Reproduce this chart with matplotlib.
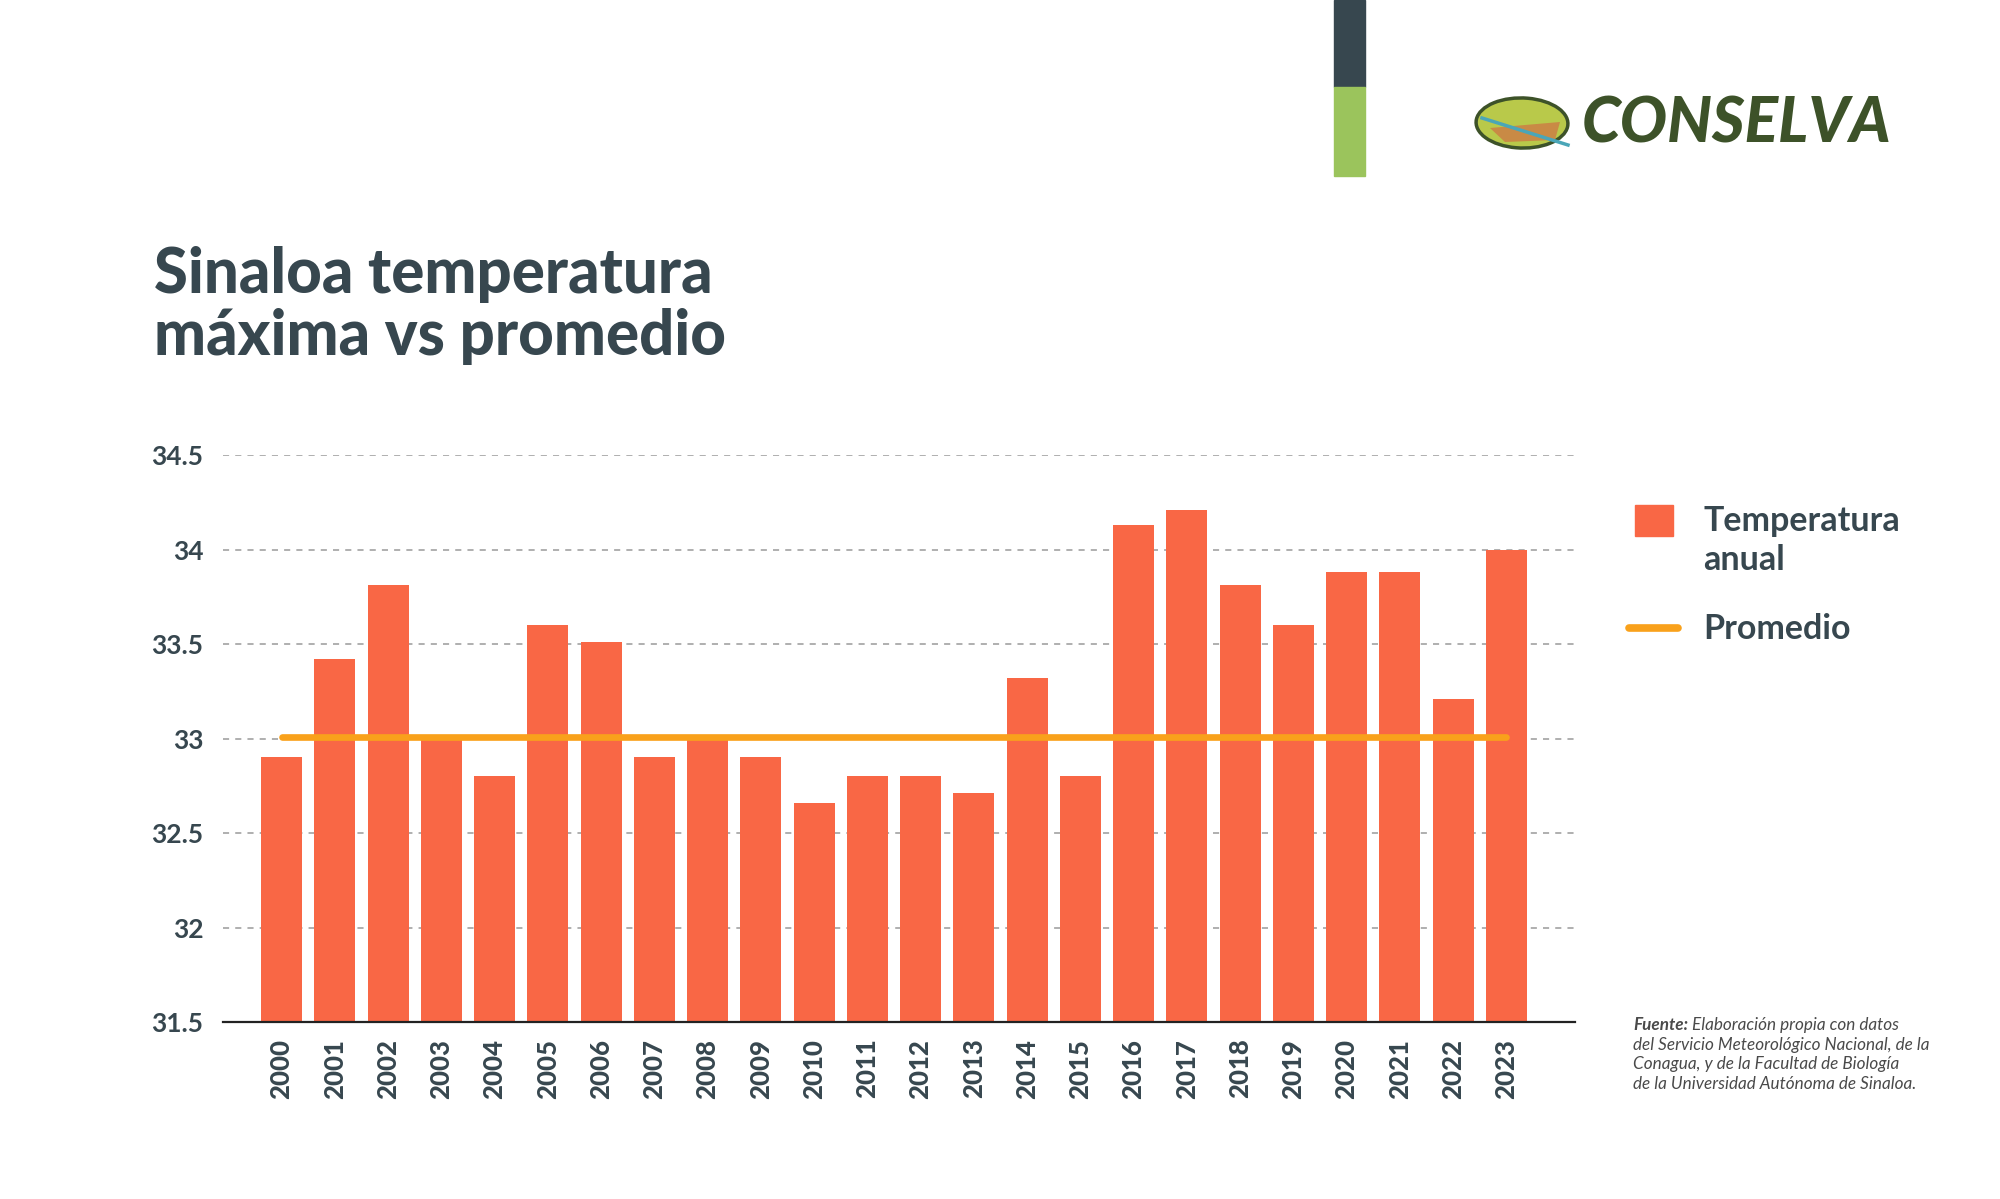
import matplotlib
matplotlib.use("Agg")
import matplotlib.pyplot as plt
from matplotlib.patches import Rectangle, Ellipse, Polygon
from matplotlib.lines import Line2D

# ---- data ----
years = [str(y) for y in range(2000, 2024)]
temperatura = [32.90, 33.42, 33.81, 33.00, 32.80, 33.60, 33.51, 32.90, 33.00, 32.90,
               32.66, 32.80, 32.80, 32.71, 33.32, 32.80, 34.13, 34.21, 33.81, 33.60,
               33.88, 33.88, 33.21, 34.00]
promedio = [33.01] * len(years)
yticks = [31.5, 32, 32.5, 33, 33.5, 34, 34.5]
ytick_labels = ["31.5", "32", "32.5", "33", "33.5", "34", "34.5"]

DARK = "#37474f"
BAR = "#f96745"
ORANGE = "#f9a11b"

W, H = 2000, 1199
fig = plt.figure(figsize=(W / 100, H / 100), dpi=100)
fig.patch.set_facecolor("white")

def fx(px):
    return px / W

def fy(py):
    return 1 - py / H

ax = fig.add_axes([fx(223), fy(1022), fx(1575 - 223), (1022 - 455) / H])
x = list(range(len(years)))
ax.bar(x, temperatura, width=0.77, color=BAR, zorder=2)
ax.plot(x, promedio, color=ORANGE, lw=4.8, solid_capstyle="round", zorder=3)

ax.set_ylim(31.5, 34.5)
ax.set_xlim(-1.1, 24.29)
ax.set_yticks(yticks)
ax.set_yticklabels(ytick_labels, fontfamily="Lato", fontweight="bold", fontsize=19, color=DARK)
ax.set_xticks(x)
ax.set_xticklabels(years, rotation=90, fontfamily="Lato", fontweight="black", fontsize=18.5, color=DARK)
ax.tick_params(axis="both", length=0)
ax.tick_params(axis="y", pad=14)
ax.tick_params(axis="x", pad=12)
for s in ["left", "right", "top"]:
    ax.spines[s].set_visible(False)
ax.spines["bottom"].set_color("#222222")
ax.spines["bottom"].set_linewidth(1.6)
ax.yaxis.grid(True, linestyle=(0, (4, 4)), color="#9a9a9a", linewidth=1.1, zorder=0)
ax.set_axisbelow(True)
ax.set_facecolor("none")

# ---- title ----
fig.text(fx(154), fy(293), "Sinaloa temperatura", fontfamily="Lato", fontweight="black",
         fontsize=44.5, color=DARK, va="baseline", ha="left")
fig.text(fx(154), fy(355), "máxima vs promedio", fontfamily="Lato", fontweight="black",
         fontsize=44.5, color=DARK, va="baseline", ha="left")

# ---- legend ----
fig.patches.append(Rectangle((fx(1635), fy(536)), fx(38), (536 - 505) / H,
                             transform=fig.transFigure, color=BAR, figure=fig))
fig.text(fx(1703), fy(521), "Temperatura", fontfamily="Lato", fontweight="bold",
         fontsize=24.5, color=DARK, va="center", ha="left")
fig.text(fx(1703), fy(560), "anual", fontfamily="Lato", fontweight="bold",
         fontsize=24.5, color=DARK, va="center", ha="left")
fig.add_artist(Line2D([fx(1629), fx(1678)], [fy(628), fy(628)], transform=fig.transFigure,
                      color=ORANGE, lw=5.5, solid_capstyle="round"))
fig.text(fx(1703), fy(629), "Promedio", fontfamily="Lato", fontweight="bold",
         fontsize=24.5, color=DARK, va="center", ha="left")

# ---- source ----
SRC = "#4a4a4a"
t1 = fig.text(fx(1633), fy(1030), "Fuente:", fontfamily="Lato", fontweight="bold",
              fontstyle="italic", fontsize=12.3, color=SRC, va="baseline", ha="left")
fig.add_artist(plt.Annotation(" Elaboración propia con datos", xy=(1, 0), xycoords=t1,
                              fontfamily="Lato", fontstyle="italic", fontsize=12.3,
                              color=SRC, va="bottom", ha="left"))
src_lines = ["del Servicio Meteorológico Nacional, de la",
             "Conagua, y de la Facultad de Biología",
             "de la Universidad Autónoma de Sinaloa."]
for i, line in enumerate(src_lines):
    fig.text(fx(1633), fy(1030 + 19.6 * (i + 1)), line, fontfamily="Lato", fontstyle="italic",
             fontsize=12.3, color=SRC, va="baseline", ha="left")

# ---- decorative header bar ----
fig.patches.append(Rectangle((fx(1334), fy(87)), fx(31), 87 / H, transform=fig.transFigure,
                             color="#37474f", figure=fig))
fig.patches.append(Rectangle((fx(1334), fy(176)), fx(31), (176 - 87) / H, transform=fig.transFigure,
                             color="#9bc45c", figure=fig))

# ---- logo ----
OLIVE = "#3d5229"
fig.add_artist(Ellipse((fx(1522), fy(123)), fx(92), 50 / H, angle=-8, transform=fig.transFigure,
                       facecolor="#b9c94a", edgecolor=OLIVE, lw=2.5))
fig.add_artist(Polygon([(fx(1490), fy(128)), (fx(1560), fy(122)), (fx(1555), fy(140)),
                        (fx(1505), fy(142))], closed=True, transform=fig.transFigure,
                       facecolor="#c98a45", edgecolor="none"))
fig.add_artist(Line2D([fx(1482), fx(1568)], [fy(118), fy(145)], transform=fig.transFigure,
                      color="#4aa6b8", lw=2.5))
fig.text(fx(1582), fy(124), "CONSELVA", fontfamily="Lato", fontweight="black", fontstyle="italic",
         fontsize=45, color=OLIVE, va="center", ha="left")

fig.savefig("out.png", dpi=100, facecolor="white")
